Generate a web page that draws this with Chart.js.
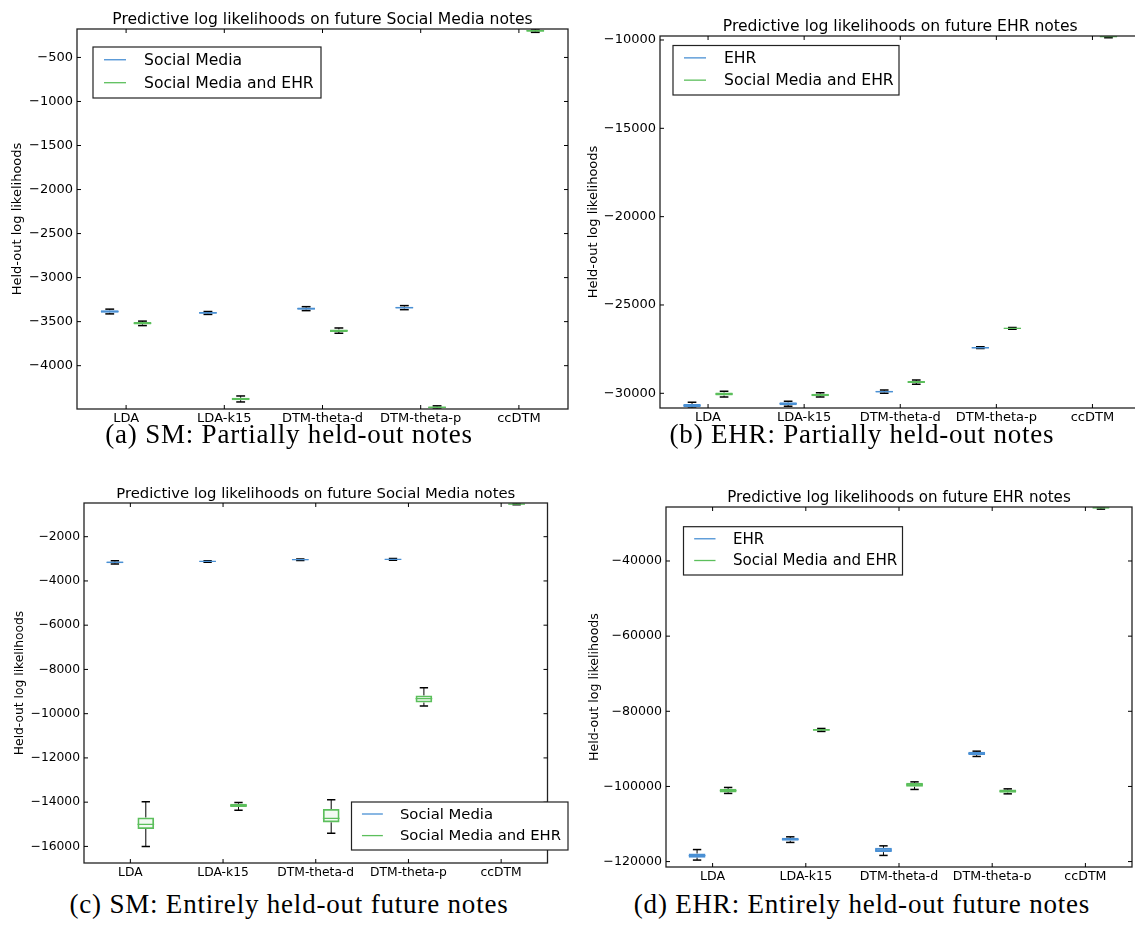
<!DOCTYPE html>
<html>
<head>
<meta charset="utf-8">
<script src="https://cdn.jsdelivr.net/npm/chart.js@4.4.0/dist/chart.umd.min.js"></script>
<style>
  html, body { margin: 0; padding: 0; background: #fff; overflow: hidden; }
  body { width: 1135px; height: 930px; position: relative; }
  canvas { position: absolute; }
  .cap {
    position: absolute; font-family: "Liberation Serif", serif; font-size: 27px;
    letter-spacing: 0.8px; line-height: 1; color: #000; white-space: nowrap;
    transform: translateX(-50%);
  }
</style>
</head>
<body>
<canvas id="smPartial" width="570" height="430" style="left:0px;top:0px"></canvas>
<canvas id="ehrPartial" width="580" height="430" style="left:570px;top:0px"></canvas>
<canvas id="smFuture" width="570" height="410" style="left:0px;top:470px"></canvas>
<canvas id="ehrFuture" width="575" height="410" style="left:570px;top:470px"></canvas>
<div class="cap" style="left:289px;top:421px">(a) SM: Partially held-out notes</div>
<div class="cap" style="left:862px;top:421px">(b) EHR: Partially held-out notes</div>
<div class="cap" style="left:289px;top:891px">(c) SM: Entirely held-out future notes</div>
<div class="cap" style="left:862px;top:891px">(d) EHR: Entirely held-out future notes</div>
<script>
const categories = ["LDA", "LDA-k15", "DTM-theta-d", "DTM-theta-p", "ccDTM"];

// box stats per category: [low whisker, q1, median, q3, high whisker]
// (a) SM, partially held-out
const smPartialSM = [
  [-3412, -3400, -3385, -3370, -3358],
  [-3418, -3410, -3400, -3390, -3385],
  [-3375, -3364, -3352, -3340, -3330],
  [-3364, -3352, -3341, -3330, -3318],
  null,
];
const smPartialBoth = [
  [-3545, -3532, -3518, -3504, -3494],
  [-4412, -4392, -4378, -4364, -4344],
  [-3632, -3617, -3602, -3588, -3572],
  [-4492, -4484, -4473, -4463, -4456],
  [-215, -207, -197, -188, -177],
];
const smPartialTicks = [-4000, -3500, -3000, -2500, -2000, -1500, -1000, -500];
const smPartialRange = [-4492, -177];

// (b) EHR, partially held-out
const ehrPartialEHR = [
  [-30830, -30770, -30690, -30600, -30510],
  [-30740, -30670, -30590, -30510, -30450],
  [-30000, -29960, -29910, -29860, -29815],
  [-27470, -27450, -27420, -27390, -27370],
  null,
];
const ehrPartialBoth = [
  [-30210, -30130, -30040, -29950, -29890],
  [-30210, -30170, -30095, -30020, -29965],
  [-29490, -29420, -29360, -29300, -29245],
  [-26370, -26350, -26320, -26290, -26270],
  [-9870, -9845, -9810, -9790, -9770],
];
const ehrPartialTicks = [-30000, -25000, -20000, -15000, -10000];
const ehrPartialRange = [-30832, -9774];

// (c) SM, entirely held-out future notes
const smFutureSM = [
  [-3240, -3205, -3165, -3125, -3090],
  [-3150, -3135, -3115, -3095, -3085],
  [-3075, -3060, -3040, -3020, -3005],
  [-3060, -3045, -3025, -3005, -2990],
  null,
];
const smFutureBoth = [
  [-16000, -15210, -15000, -14690, -13980],
  [-14370, -14220, -14150, -14070, -14010],
  [-15410, -14915, -14735, -14310, -13890],
  [-9650, -9500, -9320, -9175, -8825],
  [-560, -540, -525, -510, -477],
];
const smFutureTicks = [-16000, -14000, -12000, -10000, -8000, -6000, -4000, -2000];
const smFutureRange = [-16750, -477];

// (d) EHR, entirely held-out future notes
const ehrFutureEHR = [
  [-119600, -118950, -118400, -117850, -116800],
  [-114900, -114480, -114080, -113680, -113410],
  [-118360, -117480, -116950, -116340, -115810],
  [-92020, -91650, -91220, -90800, -90610],
  null,
];
const ehrFutureBoth = [
  [-101860, -101600, -101120, -100640, -100270],
  [-85360, -85180, -84950, -84720, -84570],
  [-100800, -100110, -99570, -99040, -98780],
  [-101970, -101680, -101250, -100820, -100640],
  [-26200, -26000, -25850, -25750, -25630],
];
const ehrFutureTicks = [-120000, -100000, -80000, -60000, -40000];
const ehrFutureRange = [-121440, -25630];

const BLUE = "#4a90d4";
const GREEN = "#5cbf5c";
const FONT = '"DejaVu Sans", sans-serif';

function fmt(v) {
  return String(v).replace("-", "\u2212");
}

function decorPlugin(cfg) {
  function seg(ctx, x1, y1, x2, y2) {
    ctx.beginPath();
    ctx.moveTo(x1, y1);
    ctx.lineTo(x2, y2);
    ctx.stroke();
  }
  return {
    id: "decor",
    afterDatasetsDraw(chart) {
      const { ctx, chartArea: a } = chart;
      const y = chart.scales.y;
      ctx.save();
      ctx.beginPath();
      ctx.rect(a.left, a.top, a.right - a.left, a.bottom - a.top);
      ctx.clip();
      chart.data.datasets.forEach((ds, di) => {
        const meta = chart.getDatasetMeta(di);
        ds.stats.forEach((s, i) => {
          if (!s) return;
          const bar = meta.data[i];
          const cx = bar.x;
          const hw = bar.width / 2;
          const [lo, q1, md, q3, hi] = s.map((v) => y.getPixelForValue(v));
          ctx.strokeStyle = "#000";
          ctx.lineWidth = 1;
          seg(ctx, cx, q3, cx, hi);
          seg(ctx, cx, q1, cx, lo);
          ctx.lineWidth = 1.5;
          seg(ctx, cx - hw / 2, hi, cx + hw / 2, hi);
          seg(ctx, cx - hw / 2, lo, cx + hw / 2, lo);
          ctx.strokeStyle = ds.borderColor;
          ctx.lineWidth = 1.3;
          seg(ctx, cx - hw, md, cx + hw, md);
        });
      });
      ctx.restore();
    },
    afterDraw(chart) {
      const { ctx, chartArea: a } = chart;
      const x = chart.scales.x;
      const y = chart.scales.y;
      ctx.save();
      // frame
      ctx.strokeStyle = "#222";
      ctx.lineWidth = 1.3;
      ctx.strokeRect(a.left, a.top, a.right - a.left, a.bottom - a.top);
      // inward ticks on all sides
      ctx.strokeStyle = "#000";
      ctx.lineWidth = 1;
      y.ticks.forEach((t, i) => {
        const py = y.getPixelForTick(i);
        seg(ctx, a.left, py, a.left + 4, py);
        seg(ctx, a.right - 4, py, a.right, py);
      });
      x.ticks.forEach((t, i) => {
        const px = x.getPixelForTick(i);
        seg(ctx, px, a.bottom, px, a.bottom - 4);
        seg(ctx, px, a.top, px, a.top + 4);
      });
      // title
      ctx.fillStyle = "#000";
      ctx.font = cfg.titleSize + "px " + FONT;
      ctx.textAlign = "center";
      ctx.textBaseline = "alphabetic";
      ctx.fillText(cfg.title, (a.left + a.right) / 2, a.top - 5.5);
      // y label
      ctx.save();
      ctx.translate(cfg.yLabelX, (a.top + a.bottom) / 2);
      ctx.rotate(-Math.PI / 2);
      ctx.font = cfg.tickSize + "px " + FONT;
      ctx.textBaseline = "middle";
      ctx.fillText("Held-out log likelihoods", 0, 0);
      ctx.restore();
      // legend
      const L = cfg.legend;
      const s = cfg.scale;
      ctx.fillStyle = "#fff";
      ctx.fillRect(L.x, L.y, L.w, L.h);
      ctx.strokeStyle = "#222";
      ctx.lineWidth = 1.2;
      ctx.strokeRect(L.x, L.y, L.w, L.h);
      ctx.font = cfg.legendSize + "px " + FONT;
      ctx.textAlign = "left";
      ctx.textBaseline = "middle";
      chart.data.datasets.forEach((ds, di) => {
        const ry = L.y + L.h * (di === 0 ? 0.25 : 0.7);
        ctx.strokeStyle = ds.borderColor;
        ctx.lineWidth = 1.3;
        seg(ctx, L.x + 11 * s, ry, L.x + 33 * s, ry);
        ctx.fillStyle = "#000";
        ctx.fillText(ds.label, L.x + 51 * s, ry + 1);
      });
      ctx.restore();
    },
  };
}

function boxSet(label, stats, color, fill) {
  return {
    label: label,
    data: stats.map((s) => (s ? [s[1], s[3]] : null)),
    stats: stats,
    backgroundColor: fill,
    borderColor: color,
    borderWidth: 1.8,
    borderSkipped: false,
    categoryPercentage: 2 / 3,
    barPercentage: 0.54,
  };
}

function makePanel(id, cfg) {
  const canvas = document.getElementById(id);
  const W = canvas.width;
  const H = canvas.height;
  const area = cfg.area;
  const tickFont = { family: FONT, size: cfg.tickSize };
  return new Chart(canvas.getContext("2d"), {
    type: "bar",
    data: {
      labels: categories,
      datasets: [
        boxSet(cfg.names[0], cfg.first, BLUE, "rgba(74,144,212,0.22)"),
        boxSet(cfg.names[1], cfg.second, GREEN, "rgba(92,191,92,0.07)"),
      ],
    },
    options: {
      responsive: false,
      animation: false,
      events: [],
      layout: { padding: { left: 0, top: area.top, right: W - area.right, bottom: 0 } },
      plugins: { legend: { display: false }, tooltip: { enabled: false } },
      scales: {
        x: {
          type: "category",
          grid: { display: false, drawTicks: false },
          border: { display: false },
          ticks: { font: tickFont, color: "#000", padding: 2, maxRotation: 0, autoSkip: false },
          afterFit: (s) => { s.height = H - area.bottom; },
        },
        y: {
          type: "linear",
          min: cfg.range[0],
          max: cfg.range[1],
          grid: { display: false, drawTicks: false },
          border: { display: false },
          afterBuildTicks: (s) => { s.ticks = cfg.ticks.map((v) => ({ value: v })); },
          afterFit: (s) => { s.width = area.left; },
          ticks: { font: tickFont, color: "#000", padding: 4, callback: (v) => fmt(v) },
        },
      },
    },
    plugins: [decorPlugin(cfg)],
  });
}

makePanel("smPartial", {
  title: "Predictive log likelihoods on future Social Media notes",
  names: ["Social Media", "Social Media and EHR"],
  first: smPartialSM, second: smPartialBoth,
  ticks: smPartialTicks, range: smPartialRange,
  area: { left: 77, top: 29, right: 568, bottom: 409 },
  tickSize: 13, titleSize: 15.6, legendSize: 15.6, scale: 1,
  yLabelX: 18,
  legend: { x: 93, y: 47, w: 228, h: 51 },
});

makePanel("ehrPartial", {
  title: "Predictive log likelihoods on future EHR notes",
  names: ["EHR", "Social Media and EHR"],
  first: ehrPartialEHR, second: ehrPartialBoth,
  ticks: ehrPartialTicks, range: ehrPartialRange,
  area: { left: 90, top: 36, right: 570.5, bottom: 408 },
  tickSize: 13, titleSize: 15.6, legendSize: 15.6, scale: 1,
  yLabelX: 24,
  legend: { x: 103, y: 45.5, w: 226, h: 49.5 },
});

makePanel("smFuture", {
  title: "Predictive log likelihoods on future Social Media notes",
  names: ["Social Media", "Social Media and EHR"],
  first: smFutureSM, second: smFutureBoth,
  ticks: smFutureTicks, range: smFutureRange,
  area: { left: 84, top: 33, right: 547.5, bottom: 393 },
  tickSize: 12.3, titleSize: 14.8, legendSize: 14.8, scale: 0.95,
  yLabelX: 20,
  legend: { x: 351.5, y: 332, w: 216.5, h: 48 },
});

makePanel("ehrFuture", {
  title: "Predictive log likelihoods on future EHR notes",
  names: ["EHR", "Social Media and EHR"],
  first: ehrFutureEHR, second: ehrFutureBoth,
  ticks: ehrFutureTicks, range: ehrFutureRange,
  area: { left: 96, top: 37, right: 562, bottom: 397 },
  tickSize: 12.6, titleSize: 15.1, legendSize: 15.1, scale: 0.97,
  yLabelX: 24.7,
  legend: { x: 113.5, y: 56.7, w: 219, h: 48.3 },
});
</script>
</body>
</html>
